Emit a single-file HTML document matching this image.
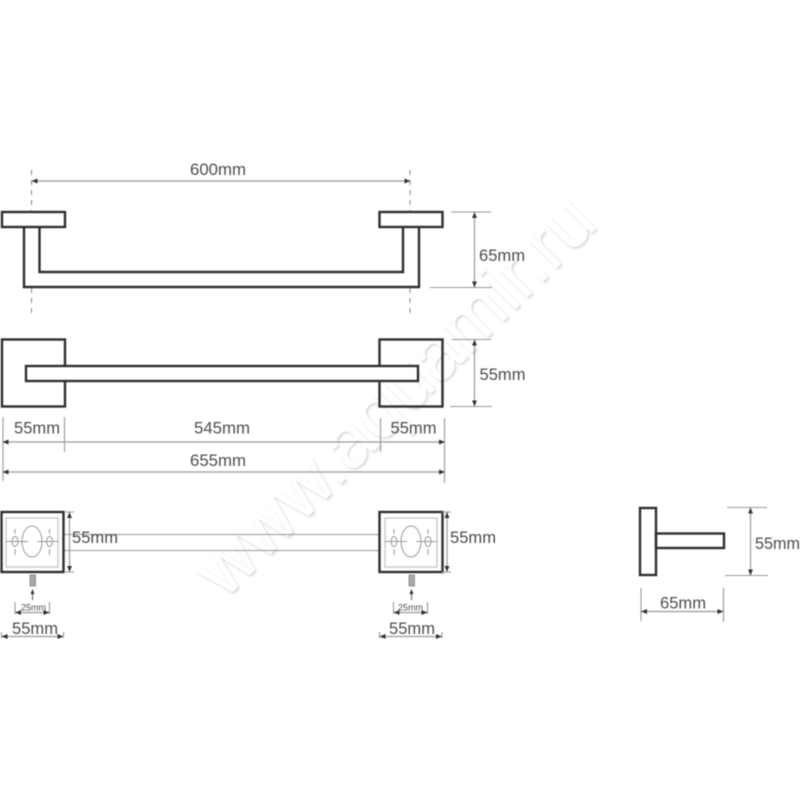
<!DOCTYPE html>
<html lang="en"><head><meta charset="utf-8"><title>Towel rail dimensions</title>
<style>
html,body{margin:0;padding:0;background:#fff;width:800px;height:800px;overflow:hidden}
svg{display:block;filter:blur(.4px)}
text{font-family:"Liberation Sans",sans-serif;fill:#4d4d4d;font-size:17px}
text.wm{font-size:75px;fill:#fff}
text.ws{font-size:75px;fill:#d4d4d4}
.k{fill:none;stroke:#2f2f2f;stroke-width:2.4}
.f{fill:#fff}
.d{stroke:#999;stroke-width:1.1;fill:none}
.a{stroke:#999;stroke-width:1.2;fill:none;marker-start:url(#ar);marker-end:url(#ar)}
.g{fill:none;stroke:#ccc;stroke-width:1.5}
.c{fill:none;stroke:#999;stroke-width:1}
.s{font-size:9.500px}
</style></head><body>
<svg width="800" height="800" viewBox="0 0 800 800" xmlns="http://www.w3.org/2000/svg">
<defs><marker id="ar" viewBox="0 0 6 6" refX="5.6" refY="3" markerWidth="6" markerHeight="6" markerUnits="userSpaceOnUse" orient="auto-start-reverse"><path d="M0 .5L6 3L0 5.500Z" fill="#333"/></marker>
<filter id="bl" x="-5%" y="-5%" width="110%" height="110%"><feGaussianBlur stdDeviation="1"/></filter></defs>
<rect width="800" height="800" fill="#fff"/>
<text class="ws" filter="url(#bl)" transform="translate(226.500 601.500) rotate(-45)" textLength="530" lengthAdjust="spacingAndGlyphs">www.aquamir.ru</text>
<text class="wm" transform="translate(225 600) rotate(-45)" textLength="530" lengthAdjust="spacingAndGlyphs">www.aquamir.ru</text>

<!-- top view -->
<path d="M31.500 170V212M31.500 288V316M410 170V212M410 288V316" fill="none" stroke="#888" stroke-dasharray="5 5"/>
<path class="a" d="M32 181H410"/>
<path class="k" d="M24 227V287H419V227M39.500 227V272H403V227"/>
<rect class="k f" x="2" y="212" width="63" height="15"/>
<rect class="k f" x="379.500" y="212" width="63" height="15"/>
<path class="d" d="M451 212H491M430 287.500H492"/>
<path class="a" d="M474.500 212.500V287"/>
<text x="190" y="175" textLength="56" lengthAdjust="spacingAndGlyphs">600mm</text>
<text x="479" y="261" textLength="46" lengthAdjust="spacingAndGlyphs">65mm</text>

<!-- front view -->
<rect class="k" x="2" y="339.500" width="63" height="67"/>
<rect class="k" x="379.500" y="339.500" width="63" height="67"/>
<rect class="k f" x="26" y="366" width="392" height="15"/>
<path class="d" d="M452 339.500H491M450 406.500H492"/>
<path class="a" d="M474.500 340V406"/>
<text x="479.500" y="380" textLength="46" lengthAdjust="spacingAndGlyphs">55mm</text>

<path class="d" d="M3 417V481M64.500 417V452M380.500 418V452M444.500 418V483"/>
<path class="a" d="M3 442H64M65 442H380M381 442H444.500"/>
<path class="a" d="M3 472H444.500"/>
<text x="14" y="433.500" textLength="46" lengthAdjust="spacingAndGlyphs">55mm</text>
<text x="194" y="433.500" textLength="56" lengthAdjust="spacingAndGlyphs">545mm</text>
<text x="390.500" y="433.500" textLength="46" lengthAdjust="spacingAndGlyphs">55mm</text>
<text x="190" y="466" textLength="56" lengthAdjust="spacingAndGlyphs">655mm</text>

<!-- mounting view -->
<path stroke="#aaa" stroke-width="1.200" fill="none" d="M64 534.500H379M64 550.500H379"/>
<g>
<rect class="k f" x="1.500" y="512" width="62" height="60"/>
<rect class="g" x="6" y="518" width="52" height="49"/>
<ellipse class="c" cx="32" cy="541.500" rx="10" ry="15.500"/>
<ellipse class="c" cx="15" cy="541.500" rx="3" ry="5"/>
<ellipse class="c" cx="49.500" cy="541.500" rx="3" ry="5"/>
<path class="c" d="M6 541.500H28M37 541.500H58M15 529V534M15 549V555M49.500 529V534M49.500 549V555"/>
<rect x="30" y="575" width="5.500" height="11" fill="#aaa" stroke="#777" stroke-width=".7"/>
<path d="M32.500 600V590" stroke="#555" fill="none"/><path d="M32.500 589l-2 5h4z" fill="#333"/>
<path class="d" d="M15 602V614M49.500 602V614"/>
<path class="a" d="M15.500 612.500H49"/>
<text class="s" x="21" y="610.500" textLength="25" lengthAdjust="spacingAndGlyphs">25mm</text>
<path class="d" d="M1.500 632V638M63.500 632V638"/>
<path class="a" d="M2 636.500H63"/>
<text x="12" y="634" textLength="46" lengthAdjust="spacingAndGlyphs">55mm</text>
</g>
<g transform="translate(378)">
<rect class="k f" x="1.500" y="512" width="63" height="60"/>
<rect class="g" x="7" y="518" width="52" height="49"/>
<ellipse class="c" cx="33" cy="541.500" rx="10" ry="15.500"/>
<ellipse class="c" cx="16" cy="541.500" rx="3" ry="5"/>
<ellipse class="c" cx="50" cy="541.500" rx="3" ry="5"/>
<path class="c" d="M7 541.500H29M38 541.500H59M16 529V534M16 549V555M50 529V534M50 549V555"/>
<rect x="31" y="575" width="5.500" height="11" fill="#aaa" stroke="#777" stroke-width=".7"/>
<path d="M33.500 600V590" stroke="#555" fill="none"/><path d="M33.500 589l-2 5h4z" fill="#333"/>
<path class="d" d="M15.500 602V614M49.500 602V614"/>
<path class="a" d="M16 612.500H49"/>
<text class="s" x="20" y="610.500" textLength="25" lengthAdjust="spacingAndGlyphs">25mm</text>
<path class="d" d="M1.500 632V638M64 632V638"/>
<path class="a" d="M2 636.500H63.500"/>
<text x="11" y="634" textLength="46" lengthAdjust="spacingAndGlyphs">55mm</text>
</g>
<path class="d" d="M64 512H74M64 572H74M442 512H451M442 572H451"/>
<path class="a" d="M69.500 512.500V571.500"/>
<path class="a" d="M447 512.500V571.500"/>
<text x="72" y="543" textLength="46" lengthAdjust="spacingAndGlyphs">55mm</text>
<text x="450" y="543" textLength="46" lengthAdjust="spacingAndGlyphs">55mm</text>

<!-- side view -->
<rect class="k" x="640" y="508" width="16" height="67"/>
<rect class="k" x="656" y="533.500" width="68" height="14.500"/>
<path class="d" d="M727 507.500H767M725 575.500H768"/>
<path class="a" d="M750.500 508V575"/>
<text x="755" y="549" textLength="45" lengthAdjust="spacingAndGlyphs">55mm</text>
<path class="d" d="M641 588V621M723.500 588V622"/>
<path class="a" d="M641.500 611.500H723"/>
<text x="660" y="608.500" textLength="46" lengthAdjust="spacingAndGlyphs">65mm</text>
</svg>
</body></html>
